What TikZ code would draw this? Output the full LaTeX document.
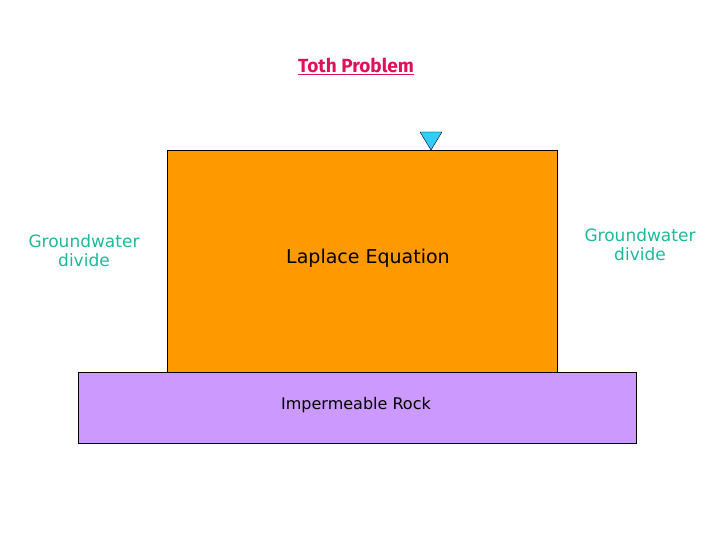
\documentclass[tikz,border=0pt]{standalone}
\usepackage{fontspec}
\setmainfont{DejaVu Sans}
\newfontfamily\titlefont{Fira Sans}
\usetikzlibrary{positioning}
\definecolor{aquifer}{HTML}{FF9900}
\definecolor{rock}{HTML}{CC99FF}
\definecolor{divide}{HTML}{1FB89A}
\definecolor{titlered}{HTML}{E0105A}
\definecolor{water}{HTML}{33CCFF}
\begin{document}
\begin{tikzpicture}[x=1pt, y=-1pt]
	\tikzstyle{block}=[draw, thick, inner sep=0pt, anchor=north west];
	\tikzstyle{lab}=[font=\fontsize{17}{19}\selectfont, text=divide, align=center];
	\useasboundingbox (0,0) rectangle (720,540);
	\node[block, fill=aquifer, minimum width=390pt, minimum height=222pt] (aq) at (167,150) {};
	\node[block, fill=rock, minimum width=558pt, minimum height=71pt] (rk) at (78,372) {};
	\node[font=\fontsize{19}{21}\selectfont] (lap) at (368,258) {Laplace Equation};
	\node[font=\fontsize{16}{18}\selectfont] (imp) at (356,405) {Impermeable Rock};
	\node[lab] (ldiv) at (84,251) {Groundwater\\divide};
	\node[lab] (rdiv) at (640,245) {Groundwater\\divide};
	\node[font=\titlefont\bfseries\fontsize{19}{21}\selectfont, text=titlered] (title) at (356,66) {\underline{Toth Problem}};
	% water table marker
	\draw[fill=water] (420,132) -- (442,132) -- (431,150) -- cycle;
\end{tikzpicture}
\end{document}
